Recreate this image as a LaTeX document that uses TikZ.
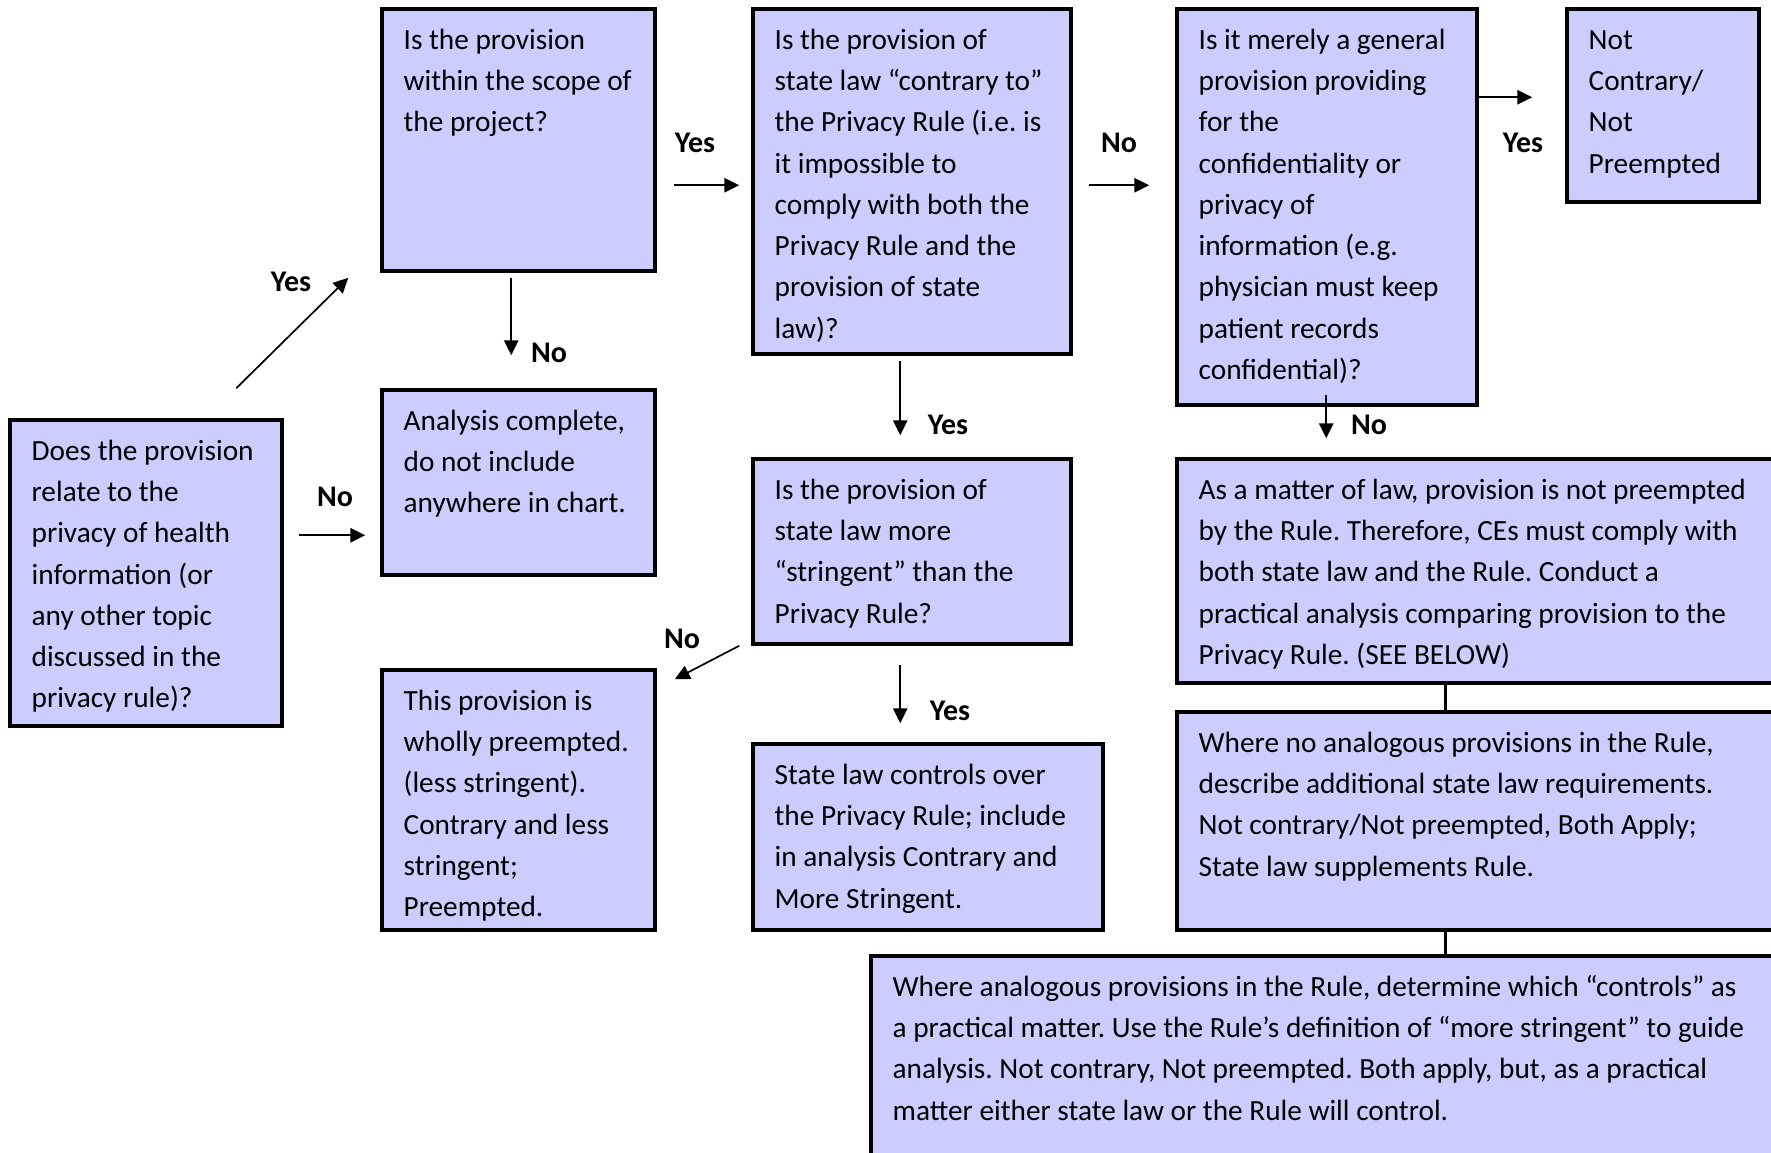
\documentclass[tikz,border=0pt]{standalone}
\usepackage{fontspec}
\setmainfont{Carlito}
\usetikzlibrary{arrows.meta,calc,fit}
\definecolor{boxfill}{RGB}{204,204,255}
\tikzset{
  x=0.5pt, y=-0.5pt,
  box/.style={draw=black, line width=1.75pt, fill=boxfill, rectangle, inner sep=0pt},
  txt/.style={anchor=north west, inner sep=0pt, align=left, font=\fontsize{14.65pt}{20.65pt}\selectfont},
  lbl/.style={inner sep=0pt, font=\bfseries\fontsize{15pt}{17pt}\selectfont},
  arr/.style={line width=0.85pt, -{Triangle[length=7.5pt,width=7.2pt]}},
  link/.style={line width=1.75pt}
}
\newcommand{\fl}{\rule{0pt}{12pt}}
\frenchspacing
\begin{document}
\begin{tikzpicture}
\useasboundingbox (0,0) rectangle (1771,1152);
\clip (0,0) rectangle (1771,1152);
\fill[white] (0,0) rectangle (1771,1152);
% boxes
\node[box, fit={(10,420)(282,726)}] (A) {};
\node[box, fit={(382,9)(655,271)}] (B) {};
\node[box, fit={(382,390)(655,575)}] (C) {};
\node[box, fit={(753,9)(1071,354)}] (D) {};
\node[box, fit={(753,459)(1071,644)}] (E) {};
\node[box, fit={(382,670)(655,930)}] (F) {};
\node[box, fit={(753,744)(1103,930)}] (G) {};
\node[box, fit={(1177,9)(1477,405)}] (H) {};
\node[box, fit={(1567,9)(1759,202)}] (I) {};
\node[box, fit={(1177,459)(1795,683)}] (J) {};
\node[box, fit={(1177,712)(1795,930)}] (K) {};
\node[box, fit={(871,956)(1795,1175)}] (L) {};
% texts
\node[txt] (At) at ($(A.north west)+(23,17.5)$) {\fl Does the provision\\relate to the\\privacy of health\\information (or\\any other topic\\discussed in the\\privacy rule)?};
\node[txt] (Bt) at ($(B.north west)+(23,17.5)$) {\fl Is the provision\\within the scope of\\the project?};
\node[txt] (Ct) at ($(C.north west)+(23,17.5)$) {\fl Analysis complete,\\do not include\\anywhere in chart.};
\node[txt] (Dt) at ($(D.north west)+(23,17.5)$) {\fl Is the provision of\\state law “contrary to”\\the Privacy Rule (i.e. is\\it impossible to\\comply with both the\\Privacy Rule and the\\provision of state\\law)?};
\node[txt] (Et) at ($(E.north west)+(23,17.5)$) {\fl Is the provision of\\state law more\\“stringent” than the\\Privacy Rule?};
\node[txt] (Ft) at ($(F.north west)+(23,17.5)$) {\fl This provision is\\wholly preempted.\\(less stringent).\\Contrary and less\\stringent;\\Preempted.};
\node[txt] (Gt) at ($(G.north west)+(23,17.5)$) {\fl State law controls over\\the Privacy Rule; include\\in analysis Contrary and\\More Stringent.};
\node[txt] (Ht) at ($(H.north west)+(23,17.5)$) {\fl Is it merely a general\\provision providing\\for the\\confidentiality or\\privacy of\\information (e.g.\\physician must keep\\patient records\\confidential)?};
\node[txt] (It) at ($(I.north west)+(23,17.5)$) {\fl Not\\Contrary/\\Not\\Preempted};
\node[txt] (Jt) at ($(J.north west)+(23,17.5)$) {\fl As a matter of law, provision is not preempted\\by the Rule. Therefore, CEs must comply with\\both state law and the Rule. Conduct a\\practical analysis comparing provision to the\\Privacy Rule. (SEE BELOW)};
\node[txt] (Kt) at ($(K.north west)+(23,17.5)$) {\fl Where no analogous provisions in the Rule,\\describe additional state law requirements.\\Not contrary/Not preempted, Both Apply;\\State law supplements Rule.};
\node[txt] (Lt) at ($(L.north west)+(23,17.5)$) {\fl Where analogous provisions in the Rule, determine which “controls” as\\a practical matter. Use the Rule’s definition of “more stringent” to guide\\analysis. Not contrary, Not preempted. Both apply, but, as a practical\\matter either state law or the Rule will control.};
% connectors
\draw[arr] ($(A.north west)+(228,-30)$) -- ($(B.south west)+(-32,5)$);
\draw[arr] ($(A.north east)+(15,117)$) -- ($(C.north west)+(-15,147)$);
\draw[arr] ($(B.south west)+(131,5)$) -- ($(C.north west)+(131,-33)$);
\draw[arr] ($(B.north east)+(17,178)$) -- ($(D.north west)+(-12,178)$);
\draw[arr] ($(D.north east)+(16,178)$) -- ($(H.north west)+(-26,178)$);
\draw[arr] ($(H.north east)+(0,90)$) -- ($(I.north west)+(-33,90)$);
\draw[arr] ($(D.south west)+(149,5)$) -- ($(E.north west)+(149,-22)$);
\draw[arr] ($(E.south west)+(-12,0)$) -- ($(F.north east)+(18,11)$);
\draw[arr] ($(E.south west)+(149,19)$) -- ($(G.north west)+(149,-19)$);
\draw[arr] ($(H.south west)+(151,-12)$) -- ($(J.north west)+(151,-19)$);
\draw[link] ($(J.south west)+(270,0)$) -- ($(K.north west)+(270,0)$);
\draw[link] ($(K.south west)+(270,0)$) -- ($(L.north west)+(576,0)$);
% labels
\node[lbl] (l1) at (291,282) {Yes};
\node[lbl] (l2) at (335,497) {No};
\node[lbl] (l3) at (549,353) {No};
\node[lbl] (l4) at (695,143) {Yes};
\node[lbl] (l5) at (1119,143) {No};
\node[lbl] (l6) at (1523,143) {Yes};
\node[lbl] (l7) at (948,425) {Yes};
\node[lbl] (l8) at (682,639) {No};
\node[lbl] (l9) at (950,711) {Yes};
\node[lbl] (l10) at (1369,425) {No};
\end{tikzpicture}
\end{document}
